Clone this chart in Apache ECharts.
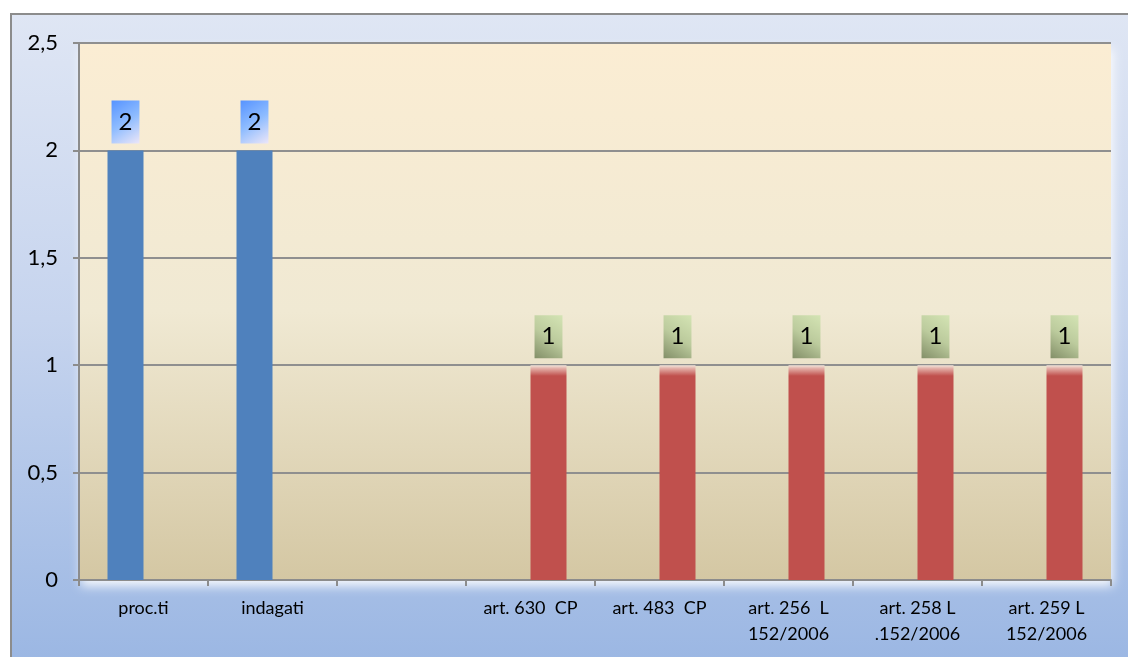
<!DOCTYPE html>
<html>
<head>
<meta charset="utf-8">
<script src="https://cdn.jsdelivr.net/npm/echarts@6/dist/echarts.min.js"></script>
<style>
  html, body { margin: 0; padding: 0; background: #fff; }
  #chart { width: 1128px; height: 657px; }
</style>
</head>
<body>
<div id="chart"></div>
<script>
// categories and values
const categories = [
  'proc.ti',
  'indagati',
  '',
  'art. 630  CP',
  'art. 483  CP',
  'art. 256  L\n152/2006',
  'art. 258 L\n.152/2006',
  'art. 259 L\n152/2006',
]
const blueValues = [2, 2, '-', '-', '-', '-', '-', '-']
const redValues = ['-', '-', '-', 1, 1, 1, 1, 1]
const yTicks = { min: 0, max: 2.5, interval: 0.5 }

const FONT = 'Lato, "Open Sans", sans-serif'
const grad = (x, y, x2, y2, stops) =>
  new echarts.graphic.LinearGradient(x, y, x2, y2, stops.map(([o, c]) => ({ offset: o, color: c })))

const chart = echarts.init(document.getElementById('chart'), null, { renderer: 'canvas' })

// value labels sit in small shaded boxes above the bars
const labelBox = (bg) => ({
  show: true,
  position: 'top',
  distance: 7,
  color: '#000',
  fontFamily: FONT,
  fontSize: 24,
  lineHeight: 21,
  padding: [11, 7, 11, 7],
  backgroundColor: bg,
})

chart.setOption({
  backgroundColor: '#fff',
  animation: false,
  graphic: [
    {
      type: 'rect',
      z: -10,
      silent: true,
      shape: { x: 11, y: 14, width: 1140, height: 680 },
      style: {
        fill: grad(0, 0, 0, 1, [[0, '#dfe6f4'], [0.45, '#c6d4ee'], [1, '#97b4e2']]),
        stroke: '#8c8c8c',
        lineWidth: 2,
      },
    },
  ],
  grid: {
    left: 79,
    top: 43,
    right: 17,
    bottom: 77,
    show: true,
    borderWidth: 0,
    backgroundColor: grad(0, 0, 0, 1, [[0, '#fbedd3'], [0.5, '#f0e9d3'], [1, '#d4c7a3']]),
    shadowColor: 'rgba(255,255,255,0.9)',
    shadowBlur: 10,
    shadowOffsetX: 2,
    shadowOffsetY: 6,
  },
  xAxis: {
    type: 'category',
    data: categories,
    axisLine: { lineStyle: { color: '#8c8c8c', width: 2 } },
    axisTick: { show: true, length: 6, lineStyle: { color: '#8c8c8c', width: 2 } },
    axisLabel: {
      color: '#000',
      fontFamily: FONT,
      fontSize: 18,
      lineHeight: 26,
      margin: 15,
      interval: 0,
    },
    splitLine: { show: false },
  },
  yAxis: {
    type: 'value',
    min: yTicks.min,
    max: yTicks.max,
    interval: yTicks.interval,
    axisLine: { show: true, lineStyle: { color: '#8c8c8c', width: 2 } },
    axisTick: { show: true, length: 6, lineStyle: { color: '#8c8c8c', width: 2 } },
    axisLabel: {
      color: '#000',
      fontFamily: FONT,
      fontSize: 22,
      margin: 21,
      formatter: (v) => String(v).replace('.', ','),
    },
    splitLine: { lineStyle: { color: '#8f8f8f', width: 2 } },
  },
  series: [
    {
      name: 'blu',
      type: 'bar',
      data: blueValues,
      barWidth: 36,
      barGap: '0%',
      itemStyle: { color: '#4f81bd' },
      label: labelBox(grad(0, 0, 1, 1, [[0, '#5693ff'], [0.5, '#8ebcff'], [1, '#ece6f8']])),
    },
    {
      name: 'rosso',
      type: 'bar',
      data: redValues,
      barWidth: 36,
      itemStyle: {
        color: grad(0, 0, 0, 1, [[0, '#f2e6dc'], [0.015, '#e3b0a8'], [0.05, '#c0504d'], [1, '#c0504d']]),
      },
      label: labelBox(grad(1, 0, 0, 1, [[0, '#d4e4b4'], [0.5, '#bccb9d'], [1, '#838f68']])),
    },
  ],
})
</script>
</body>
</html>
